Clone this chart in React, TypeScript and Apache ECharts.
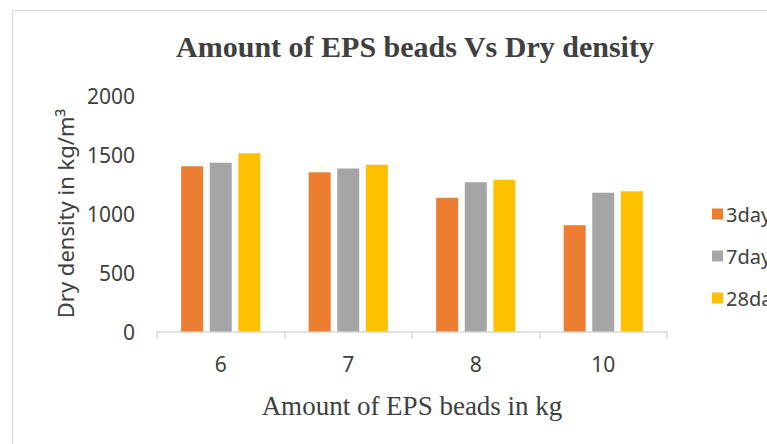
import React, { useEffect, useRef } from "react";
import * as echarts from "echarts";

const categories = ["6", "7", "8", "10"];
const seriesNames = ["3days", "7days", "28days"];
const days3 = [1400, 1350, 1133, 901];
const days7 = [1430, 1382, 1265, 1175];
const days28 = [1511, 1413, 1286, 1189];
const colors = ["#ED7D31", "#A5A5A5", "#FFC000"];

export default function App() {
  const ref = useRef<HTMLDivElement>(null);
  useEffect(() => {
    document.body.style.margin = "0";
    const chart = echarts.init(ref.current!, null, { renderer: "svg" });
    const values = [days3, days7, days28];
    chart.setOption({
      animation: false,
      backgroundColor: "#ffffff",
      title: {
        text: "Amount of EPS beads Vs Dry density",
        left: 410,
        textAlign: "center",
        top: 26,
        textStyle: {
          fontFamily: "Liberation Serif",
          fontWeight: "bold",
          fontSize: 30,
          color: "#404040",
        },
      },
      graphic: [
        {
          type: "rect",
          shape: { x: 12.5, y: 10.5, width: 900, height: 600 },
          style: { fill: "none", stroke: "#d9d9d9", lineWidth: 1 },
          silent: true,
          z: -1,
        },
      ],
      legend: {
        orient: "vertical",
        left: 707,
        top: 199,
        itemWidth: 11,
        itemHeight: 11,
        itemGap: 22,
        icon: "rect",
        textStyle: {
          fontFamily: "Noto Sans",
          fontSize: 20,
          color: "#404040",
          lineHeight: 20,
          padding: [0, 0, 0, -2],
        },
        data: seriesNames,
      },
      grid: { left: 157, right: 100, top: 95.5, bottom: 112.5 },
      xAxis: {
        type: "category",
        data: categories,
        name: "Amount of EPS beads in kg",
        nameLocation: "middle",
        nameGap: 61,
        nameTextStyle: {
          fontFamily: "Liberation Serif",
          fontSize: 27,
          color: "#404040",
        },
        axisLine: { lineStyle: { color: "#d9d9d9", width: 1.5 } },
        axisTick: { show: true, length: 7, lineStyle: { color: "#d9d9d9", width: 1.5 } },
        axisLabel: {
          fontFamily: "Noto Sans",
          fontSize: 21,
          color: "#404040",
          margin: 22,
        },
      },
      yAxis: {
        type: "value",
        min: 0,
        max: 2000,
        interval: 500,
        name: "Dry density in kg/m³",
        nameLocation: "middle",
        nameGap: 81,
        nameTextStyle: {
          fontFamily: "Noto Sans",
          fontSize: 22,
          color: "#404040",
        },
        axisLine: { show: false },
        axisTick: { show: false },
        splitLine: { show: false },
        axisLabel: {
          fontFamily: "Noto Sans",
          fontSize: 21,
          color: "#404040",
          margin: 22,
          formatter: (v: number) => String(v),
        },
      },
      series: seriesNames.map((n, i) => ({
        name: n,
        type: "bar",
        data: values[i],
        barWidth: 22,
        barGap: "30%",
        itemStyle: { color: colors[i] },
      })),
    });
    return () => chart.dispose();
  }, []);
  return (
    <div
      ref={ref}
      style={{ position: "absolute", left: 0, top: 0, width: 767, height: 444 }}
    />
  );
}
